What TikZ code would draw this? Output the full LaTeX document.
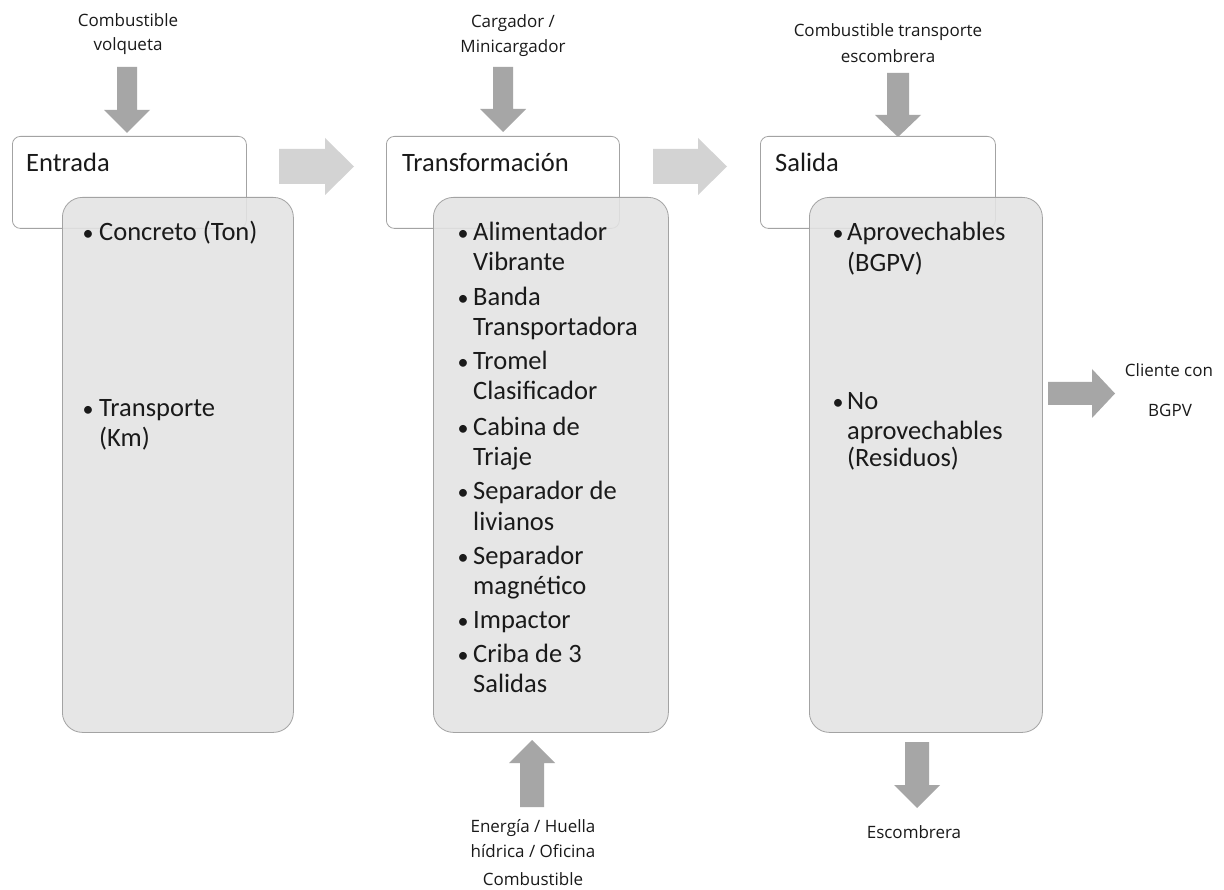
\documentclass[tikz,border=0pt]{standalone}
\usepackage{fontspec}
\setmainfont{Carlito}
\newfontfamily\lblfont{Open Sans}
\definecolor{darkarrow}{HTML}{A6A6A6}
\definecolor{lightarrow}{HTML}{D3D3D3}
\definecolor{boxfill}{HTML}{E3E3E3}
\definecolor{boxline}{HTML}{A3A3A3}
\definecolor{txt}{HTML}{1A1A1A}
% block arrow, vertical: cx, y0, yhead, ytip, shaft half, head half, style
\newcommand\blkv[7]{\fill[#7] ({#1-#5},#2) -- ({#1+#5},#2) -- ({#1+#5},#3) -- ({#1+#6},#3) -- (#1,#4) -- ({#1-#6},#3) -- ({#1-#5},#3) -- cycle;}
% block arrow, horizontal: cy, x0, xhead, xtip, shaft half, head half, style
\newcommand\blkh[7]{\fill[#7] (#2,{#1-#5}) -- (#3,{#1-#5}) -- (#3,{#1-#6}) -- (#4,#1) -- (#3,{#1+#6}) -- (#3,{#1+#5}) -- (#2,{#1+#5}) -- cycle;}
\begin{document}
\begin{tikzpicture}[x=1pt,y=-1pt,
  headbox/.style={draw=boxline,line width=0.8pt,fill=white,rounded corners=8pt,rectangle,inner sep=0pt,anchor=north west},
  listbox/.style={draw=boxline,line width=0.8pt,fill=boxfill,fill opacity=0.88,rounded corners=20pt,rectangle,inner sep=0pt,anchor=north west},
  title/.style={font=\fontsize{26.5}{30}\selectfont,text=txt,inner sep=0pt,anchor=base west},
  item/.style={font=\fontsize{26.5}{30}\selectfont,text=txt,inner sep=0pt,anchor=base west},
  bul/.style={font=\fontsize{22}{30}\selectfont,text=txt,inner sep=0pt,anchor=base},
  lbl/.style={font=\lblfont\fontsize{17}{20}\selectfont,text=txt,inner sep=0pt,anchor=base},
  darkfill/.style={fill=darkarrow},
  lightfill/.style={fill=lightarrow}]
\useasboundingbox (0,0) rectangle (1224,890);
\fill[white] (0,0) rectangle (1224,890);

% header boxes
\node[headbox,minimum width=234pt,minimum height=92pt] (hE) at (12,136) {};
\node[headbox,minimum width=233pt,minimum height=92pt] (hT) at (386,136) {};
\node[headbox,minimum width=235pt,minimum height=92pt] (hS) at (760,136) {};
% list boxes
\node[listbox,minimum width=231pt,minimum height=535pt] (lE) at (62,197) {};
\node[listbox,minimum width=235pt,minimum height=535pt] (lT) at (433,197) {};
\node[listbox,minimum width=233pt,minimum height=535pt] (lS) at (809,197) {};

% titles
\node[title] (tE) at (26,172) {Entrada};
\node[title] (tT) at (402,172) {Transformación};
\node[title] (tS) at (775,172) {Salida};

% Entrada items
\node[bul] (bE1) at (88,241) {•};
\node[item] (iE1) at (99,241) {Concreto (Ton)};
\node[bul] (bE2) at (88,417) {•};
\node[item] (iE2a) at (99,417) {Transporte};
\node[item] (iE2b) at (99,447) {(Km)};

% Transformacion items
\foreach \n/\y/\a/\b in {1/241/Alimentador/Vibrante, 2/306/Banda/Transportadora, 3/370/Tromel/Clasificador, 4/436/Cabina de/Triaje, 5/500/Separador de/livianos, 6/564/Separador/magnético, 8/662/Criba de 3/Salidas}{
  \node[bul] (bT\n) at (463,\y) {•};
  \node[item] (iT\n a) at (473,\y) {\a};
  \node[item] (iT\n b) at (473,\y+30) {\b};
}
\node[bul] (bT7) at (463,628) {•};
\node[item] (iT7a) at (473,628) {Impactor};

% Salida items
\node[bul] (bS1) at (838,241) {•};
\node[item] (iS1a) at (847,241) {Aprovechables};
\node[item] (iS1b) at (847,272) {(BGPV)};
\node[bul] (bS2) at (838,410) {•};
\node[item] (iS2a) at (847,410) {No};
\node[item] (iS2b) at (847,439) {aprovechables};
\node[item] (iS2c) at (847,467) {(Residuos)};

% small labels
\node[lbl] (cE1) at (128,27) {Combustible};
\node[lbl] (cE2) at (128,51) {volqueta};
\node[lbl] (cT1) at (513,28) {Cargador /};
\node[lbl] (cT2) at (513,53) {Minicargador};
\node[lbl] (cS1) at (888,37) {Combustible transporte};
\node[lbl] (cS2) at (888,63) {escombrera};
\node[lbl] (cB1) at (533,832) {Energía / Huella};
\node[lbl] (cB2) at (533,857) {hídrica / Oficina};
\node[lbl] (cB3) at (533,885) {Combustible};
\node[lbl] (cX) at (914,838) {Escombrera};
\node[lbl] (cR1) at (1169,377) {Cliente con};
\node[lbl] (cR2) at (1170,417) {BGPV};

% block arrows
\blkv{127}{67}{110}{133}{10}{23}{darkfill}
\blkv{503}{67}{109}{132}{10}{23}{darkfill}
\blkv{898}{73}{115}{137}{11}{23}{darkfill}
\blkv{532}{807}{763}{740}{12}{23}{darkfill}
\blkv{917}{742}{785}{808}{12}{23}{darkfill}
\blkh{166.5}{279}{325}{354}{17.5}{28.5}{lightfill}
\blkh{166.5}{653}{698}{727}{17.5}{28.5}{lightfill}
\blkh{393.5}{1048}{1092}{1115}{11.5}{24.5}{darkfill}
\end{tikzpicture}
\end{document}
